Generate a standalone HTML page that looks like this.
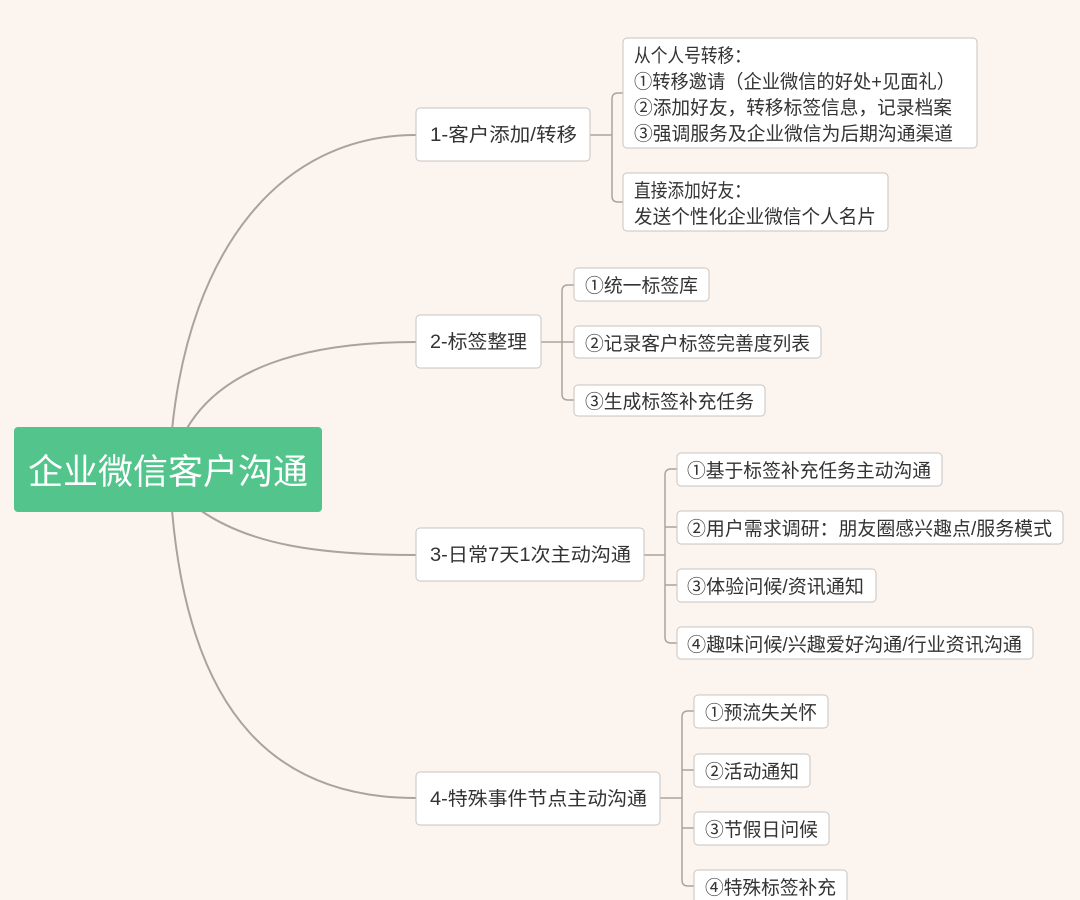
<!DOCTYPE html>
<html><head><meta charset="utf-8"><style>
html,body{margin:0;padding:0;background:#fcf4ef;}
svg{display:block}
text{font-family:"Liberation Sans","Noto Sans CJK SC",sans-serif;fill:#333;font-size:19px;}
.b{fill:#fff;stroke:#c9c4c0;stroke-width:1}
.l{fill:none;stroke:#a9a39e;stroke-width:2}
.t{fill:none;stroke:#a9a39e;stroke-width:1.5}
</style></head><body>
<svg width="1080" height="900" viewBox="0 0 1080 900">
<rect width="1080" height="900" fill="#fcf4ef"/>
<path class="l" d="M172 430 C190 250 280 135 416 135"/>
<path class="l" d="M186 430 C220 370 300 342 416 342"/>
<path class="l" d="M200 510 C250 545 320 555 416 555"/>
<path class="l" d="M172 510 C190 720 280 798 416 798"/>
<rect x="14" y="427" width="308" height="85" rx="4" fill="#52c48c"/>
<text x="28" y="484" textLength="280" lengthAdjust="spacingAndGlyphs" style="font-size:35px;fill:#fff">企业微信客户沟通</text>

<path class="t" d="M590 135 H612 M623 93 H618 Q612 93 612 99 V196 Q612 202 618 202 H623"/>
<rect class="b" x="416" y="108" width="174" height="53" rx="4"/>
<text x="430" y="141" textLength="147" lengthAdjust="spacingAndGlyphs">1-客户添加/转移</text>
<rect class="b" x="623" y="38" width="354" height="110" rx="4"/>
<text x="634" y="62" textLength="117" lengthAdjust="spacingAndGlyphs">从个人号转移：</text>
<text x="634" y="88" textLength="321" lengthAdjust="spacingAndGlyphs">①转移邀请（企业微信的好处+见面礼）</text>
<text x="634" y="114" textLength="318" lengthAdjust="spacingAndGlyphs">②添加好友，转移标签信息，记录档案</text>
<text x="634" y="140" textLength="319" lengthAdjust="spacingAndGlyphs">③强调服务及企业微信为后期沟通渠道</text>
<rect class="b" x="623" y="173" width="265" height="58" rx="4"/>
<text x="634" y="197" textLength="117" lengthAdjust="spacingAndGlyphs">直接添加好友：</text>
<text x="634" y="223" textLength="242" lengthAdjust="spacingAndGlyphs">发送个性化企业微信个人名片</text>

<path class="t" d="M541 342 H562 M574 285 H568 Q562 285 562 291 V394 Q562 400 568 400 H574 M562 342 H574"/>
<rect class="b" x="416" y="315" width="125" height="53" rx="4"/>
<text x="430" y="348" textLength="97" lengthAdjust="spacingAndGlyphs">2-标签整理</text>
<rect class="b" x="574" y="268" width="135" height="33" rx="4"/>
<text x="585" y="292" textLength="113" lengthAdjust="spacingAndGlyphs">①统一标签库</text>
<rect class="b" x="574" y="326" width="247" height="32" rx="4"/>
<text x="585" y="350" textLength="225" lengthAdjust="spacingAndGlyphs">②记录客户标签完善度列表</text>
<rect class="b" x="574" y="385" width="191" height="31" rx="4"/>
<text x="585" y="408" textLength="169" lengthAdjust="spacingAndGlyphs">③生成标签补充任务</text>

<path class="t" d="M644 555 H665 M677 469 H671 Q665 469 665 475 V637 Q665 643 671 643 H677 M665 527 H677 M665 585 H677"/>
<rect class="b" x="416" y="528" width="228" height="53" rx="4"/>
<text x="430" y="561" textLength="201" lengthAdjust="spacingAndGlyphs">3-日常7天1次主动沟通</text>
<rect class="b" x="677" y="453" width="265" height="33" rx="4"/>
<text x="687" y="477" textLength="244" lengthAdjust="spacingAndGlyphs">①基于标签补充任务主动沟通</text>
<rect class="b" x="677" y="511" width="386" height="33" rx="4"/>
<text x="687" y="535" textLength="365" lengthAdjust="spacingAndGlyphs">②用户需求调研：朋友圈感兴趣点/服务模式</text>
<rect class="b" x="677" y="569" width="199" height="33" rx="4"/>
<text x="687" y="593" textLength="177" lengthAdjust="spacingAndGlyphs">③体验问候/资讯通知</text>
<rect class="b" x="677" y="627" width="356" height="32" rx="4"/>
<text x="687" y="651" textLength="335" lengthAdjust="spacingAndGlyphs">④趣味问候/兴趣爱好沟通/行业资讯沟通</text>

<path class="t" d="M660 798 H682 M694 711 H688 Q682 711 682 717 V880 Q682 886 688 886 H694 M682 770 H694 M682 828 H694"/>
<rect class="b" x="416" y="772" width="244" height="53" rx="4"/>
<text x="430" y="805" textLength="217" lengthAdjust="spacingAndGlyphs">4-特殊事件节点主动沟通</text>
<rect class="b" x="694" y="695" width="134" height="33" rx="4"/>
<text x="705" y="719" textLength="112" lengthAdjust="spacingAndGlyphs">①预流失关怀</text>
<rect class="b" x="694" y="754" width="116" height="33" rx="4"/>
<text x="705" y="778" textLength="94" lengthAdjust="spacingAndGlyphs">②活动通知</text>
<rect class="b" x="694" y="812" width="135" height="33" rx="4"/>
<text x="705" y="836" textLength="113" lengthAdjust="spacingAndGlyphs">③节假日问候</text>
<rect class="b" x="694" y="870" width="153" height="33" rx="4"/>
<text x="705" y="894" textLength="131" lengthAdjust="spacingAndGlyphs">④特殊标签补充</text>
</svg>
</body></html>
